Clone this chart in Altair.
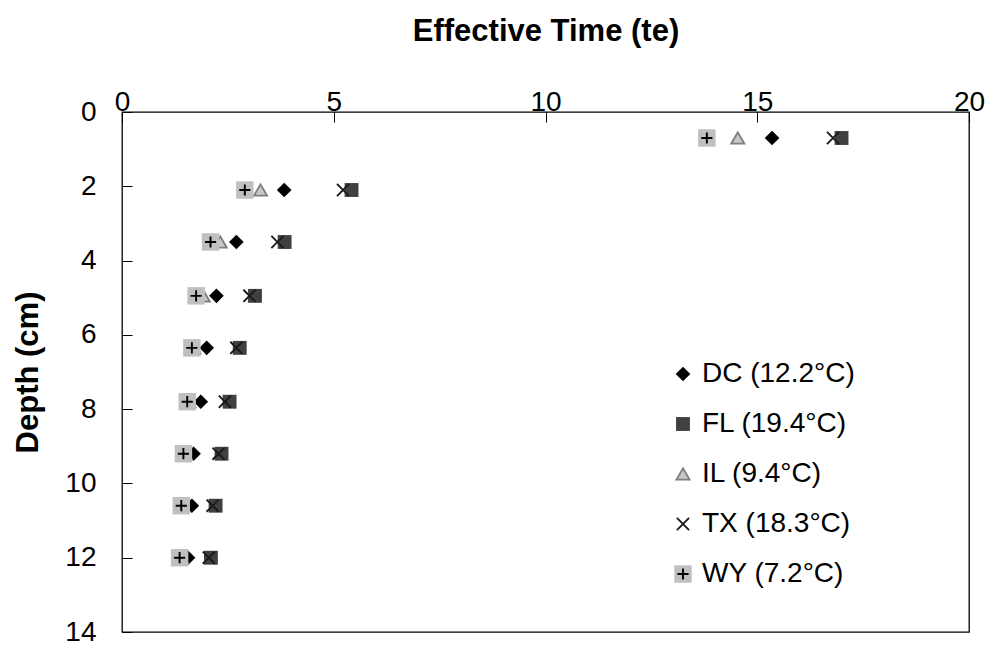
import altair as alt
import pandas as pd

# ---- data ----
series = ["DC (12.2°C)", "FL (19.4°C)", "IL (9.4°C)", "TX (18.3°C)", "WY (7.2°C)"]
depth = [0.7, 2.1, 3.5, 4.95, 6.35, 7.8, 9.2, 10.6, 12.0]
dc = [15.35, 3.83, 2.70, 2.23, 2.00, 1.86, 1.69, 1.65, 1.56]
fl = [16.99, 5.42, 3.84, 3.14, 2.78, 2.54, 2.35, 2.21, 2.10]
il = [14.54, 3.27, 2.32, 1.92, 1.70, 1.58, 1.49, 1.44, 1.40]
tx = [16.79, 5.22, 3.67, 3.01, 2.70, 2.43, 2.28, 2.14, 2.05]
wy = [13.81, 2.90, 2.09, 1.75, 1.65, 1.54, 1.45, 1.40, 1.36]
x_ticks = [0, 5, 10, 15, 20]
y_ticks = [0, 2, 4, 6, 8, 10, 12, 14]

values = [dc, fl, il, tx, wy]
rows = []
for s, vals in zip(series, values):
    for d, v in zip(depth, vals):
        rows.append({"series": s, "depth": d, "time": v})
df = pd.DataFrame(rows)
legend_df = pd.DataFrame({"series": series})

FONT = "Liberation Sans"
XPATH = "M-1,-1L1,1M-1,1L1,-1"
PLUS = "M-1,0L1,0M0,-1L0,1"

shape_enc = alt.Shape("series:N", scale=alt.Scale(domain=series,
                      range=["diamond", "square", "triangle-up", XPATH, PLUS]), legend=None)
fill_enc = alt.Fill("series:N", scale=alt.Scale(domain=series,
                    range=["#000000", "#404040", "#c8c8c8", "transparent", "transparent"]), legend=None)
stroke_enc = alt.Stroke("series:N", scale=alt.Scale(domain=series,
                        range=["transparent", "transparent", "#7f7f7f", "#1a1a1a", "#000000"]), legend=None)
size_enc = alt.Size("series:N", scale=alt.Scale(domain=series,
                    range=[215, 125, 225, 160, 140]), legend=None)

x_enc = alt.X("time:Q", scale=alt.Scale(domain=[0, 20], nice=False),
              axis=alt.Axis(orient="top", values=x_ticks, title="Effective Time (te)",
                            offset=-10, tickSize=10, domain=False, grid=False,
                            labelPadding=-4, titlePadding=41, labelFlush=False,
                            labelFontSize=28, titleFontSize=31, labelFont=FONT, titleFont=FONT,
                            labelColor="#000", titleColor="#000", tickColor="#000",
                            titleFontWeight="bold", format="d"))
y_enc = alt.Y("depth:Q", scale=alt.Scale(domain=[0, 14], reverse=True, nice=False),
              axis=alt.Axis(values=y_ticks, title="Depth (cm)",
                            offset=-10, tickSize=10, domain=False, grid=False,
                            labelPadding=26, titlePadding=20, labelFlush=False,
                            labelFontSize=28, titleFontSize=31, labelFont=FONT, titleFont=FONT,
                            labelColor="#000", titleColor="#000", tickColor="#000",
                            titleFontWeight="bold", format="d"))

base = alt.Chart(df)
main = base.transform_filter(alt.datum.series != series[4]).mark_point(
    filled=False, strokeWidth=1.9, opacity=1).encode(
    x=x_enc, y=y_enc, shape=shape_enc, fill=fill_enc, stroke=stroke_enc, size=size_enc)
wy_bg = base.transform_filter(alt.datum.series == series[4]).mark_square(
    size=305, color="#c0c0c0", opacity=1).encode(x="time:Q", y="depth:Q")
wy_fg = base.transform_filter(alt.datum.series == series[4]).mark_point(
    filled=False, strokeWidth=1.9, opacity=1).encode(
    x="time:Q", y="depth:Q", shape=shape_enc, fill=fill_enc, stroke=stroke_enc, size=size_enc)

data_layer = alt.layer(main, wy_bg, wy_fg)

# ---- legend built from the series list ----
ly = alt.Y("series:N", scale=alt.Scale(domain=series, range=[262, 462], padding=0), axis=None)
lbase = alt.Chart(legend_df)
leg_main = lbase.transform_filter(alt.datum.series != series[4]).mark_point(
    filled=False, strokeWidth=1.9, opacity=1).encode(
    x=alt.value(561), y=ly, shape=shape_enc, fill=fill_enc, stroke=stroke_enc, size=size_enc)
leg_bg = lbase.transform_filter(alt.datum.series == series[4]).mark_square(
    size=305, color="#c0c0c0", opacity=1).encode(x=alt.value(561), y=ly)
leg_fg = lbase.transform_filter(alt.datum.series == series[4]).mark_point(
    filled=False, strokeWidth=1.9, opacity=1).encode(
    x=alt.value(561), y=ly, shape=shape_enc, fill=fill_enc, stroke=stroke_enc, size=size_enc)
leg_text = lbase.mark_text(align="left", baseline="middle", fontSize=28, font=FONT,
                           color="#000").encode(x=alt.value(580), y=ly, text="series:N")
legend_layer = alt.layer(leg_main, leg_bg, leg_fg, leg_text)

chart = alt.layer(data_layer, legend_layer).resolve_scale(y="independent").properties(
    width=847, height=520,
    autosize=alt.AutoSizeParams(type="none"),
    padding={"left": 122, "top": 112, "right": 18, "bottom": 16},
    background="white",
).configure_view(stroke="#000", strokeWidth=1.3)

chart.save("out.html", embed_options={"renderer": "svg", "actions": False})
